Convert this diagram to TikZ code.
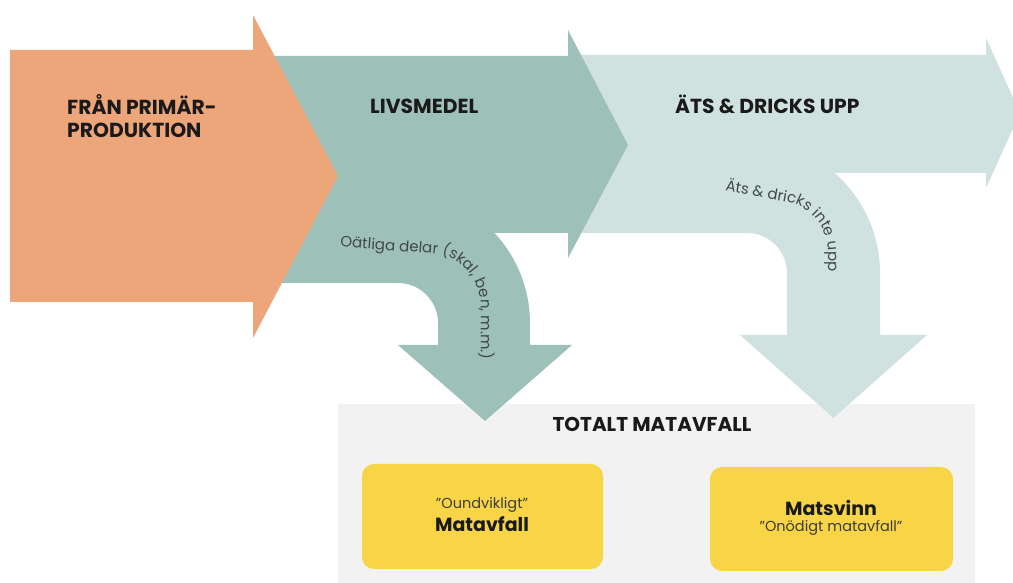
\documentclass[tikz,border=0pt]{standalone}
\usepackage{fontspec}
\setmainfont{Poppins}
\definecolor{orangeA}{RGB}{236,166,121}
\definecolor{tealA}{RGB}{157,192,185}
\definecolor{lightA}{RGB}{208,226,223}
\definecolor{grayA}{RGB}{242,242,242}
\definecolor{yellowA}{RGB}{248,213,70}
\definecolor{inkA}{RGB}{26,26,26}
\definecolor{curvA}{RGB}{66,72,72}
\tikzset{
  head/.style={inner sep=0pt, text=inkA, font=\fontsize{20.3}{24}\selectfont\bfseries},
  boxA/.style={fill=yellowA, rounded corners=12pt},
  sub/.style={inner sep=0pt, text=inkA!85, font=\fontsize{14.5}{18}\selectfont},
  big/.style={inner sep=0pt, text=inkA, font=\fontsize{19}{23}\selectfont\bfseries},
}
% curved text: straight piece, circular arc (clockwise), then straight down
\newdimen\ctw
\AtBeginDocument{{\fontsize{15}{18}\selectfont
  \expandafter\global\expandafter\let\expandafter\ctprim\the\font}}
\newcommand\ctstop{CTSTOP}
\newcommand\ctsetup[5]{%
  \xdef\ctXo{#1}\xdef\ctYo{#2}\xdef\ctA{#3}\xdef\ctL{#4}\xdef\ctR{#5}\xdef\ctS{0}%
  \pgfmathsetmacro\ctt{(#3+90)*pi/180*#5}\global\let\ctArc\ctt
  \pgfmathsetmacro\ctt{#1+#4*cos(#3)+#5*cos(#3-90)}\global\let\ctCx\ctt
  \pgfmathsetmacro\ctt{#2+#4*sin(#3)+#5*sin(#3-90)}\global\let\ctCy\ctt
}
\newcommand\ctchar[1]{%
  \setbox0=\hbox{\ctprim #1}\global\ctw=\wd0
  \pgfmathsetmacro\ctwn{\ctw}%
  \pgfmathsetmacro\ctm{\ctS+0.5*\ctwn}%
  \pgfmathsetmacro\ctmm{\ctm-\ctL}%
  \ifdim\ctmm pt<0pt
    \pgfmathsetmacro\ctPx{\ctXo+\ctm*cos(\ctA)}%
    \pgfmathsetmacro\ctPy{\ctYo+\ctm*sin(\ctA)}%
    \pgfmathsetmacro\ctAng{\ctA}%
  \else
    \pgfmathsetmacro\ctmmm{\ctmm-\ctArc}%
    \ifdim\ctmmm pt<0pt
      \pgfmathsetmacro\ctAng{\ctA-\ctmm/\ctR*180/pi}%
      \pgfmathsetmacro\ctPx{\ctCx+\ctR*cos(\ctAng+90)}%
      \pgfmathsetmacro\ctPy{\ctCy+\ctR*sin(\ctAng+90)}%
    \else
      \pgfmathsetmacro\ctAng{-90}%
      \pgfmathsetmacro\ctPx{\ctCx+\ctR}%
      \pgfmathsetmacro\ctPy{\ctCy-\ctmmm}%
    \fi
  \fi
  \node[font=\ctprim, text=curvA, inner sep=0pt, anchor=base, rotate=\ctAng] at (\ctPx,\ctPy) {#1};%
  \pgfmathsetmacro\ctt{\ctS+\ctwn}\global\let\ctS\ctt
}
\def\ctloop#1{\ifx#1\ctstop\else\ctchar{#1}\expandafter\ctloop\fi}
\begin{document}
\begin{tikzpicture}[x=1pt,y=1pt]
\useasboundingbox (0,0) rectangle (1013,583);
\clip (0,0) rectangle (1013,583);
\fill[white] (0,0) rectangle (1013,583);
% gray area
\fill[grayA] (338,0) rectangle (975,179);
% light arrow
\fill[lightA] (575,528) -- (986,528) -- (986,545) -- (1020,470) -- (986,395) -- (986,410)
  -- (834.7,410) arc[start angle=48.75, end angle=0, radius=133] -- (880,248) -- (927,248)
  -- (833.5,165) -- (740,248) -- (787,248) -- (787,310) arc[start angle=0, end angle=90, radius=40]
  -- (575,350) -- cycle;
% teal arrow
\fill[tealA] (260,527) -- (568,527) -- (568,553) -- (628,438) -- (568,325) -- (568,350)
  -- (494.5,350) arc[start angle=43, end angle=0, radius=132] -- (530,238) -- (572,238)
  -- (485,162) -- (398,238) -- (438,238) -- (438,260) arc[start angle=0, end angle=90, radius=40]
  -- (260,300) -- cycle;
% orange arrow
\fill[orangeA] (10,533) -- (253,533) -- (253,568) -- (338,407) -- (253,245) -- (253,281) -- (10,281) -- cycle;
% headings
\node[head, anchor=base west] (fran1) at (67,468) {FRÅN PRIMÄR-};
\node[head, anchor=base west] (fran2) at (67,445) {PRODUKTION};
\node[head, anchor=base west] (livs) at (370,469) {LIVSMEDEL};
\node[head, anchor=base west] (ats) at (675,469) {ÄTS \& DRICKS UPP};
% curved labels
\ctsetup{340}{336}{-4}{93}{51.6}
\ctloop Oätliga\ delar\ (skal,\ ben,\ m.m.)\ctstop
\ctsetup{725}{392}{-10}{62}{50.8}
\ctloop Äts\ \&\ dricks\ inte\ upp\ctstop
% total box
\node[big, font=\fontsize{20}{24}\selectfont\bfseries, anchor=base] (totalt) at (652,151) {TOTALT MATAVFALL};
\fill[boxA] (362,14) rectangle (603,119);
\fill[boxA] (710,12) rectangle (953,116);
\node[sub, anchor=base] (oundv) at (482,74) {”Oundvikligt”};
\node[big, anchor=base] (matavf) at (482,51) {Matavfall};
\node[big, anchor=base] (matsv) at (831,67) {Matsvinn};
\node[sub, anchor=base] (onod) at (831,51) {”Onödigt matavfall”};
\end{tikzpicture}
\end{document}
